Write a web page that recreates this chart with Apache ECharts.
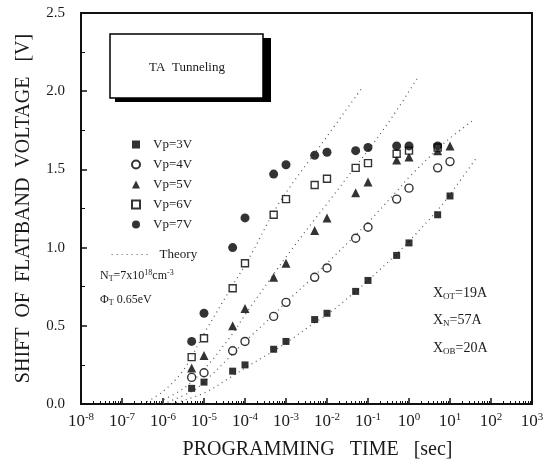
<!DOCTYPE html>
<html><head><meta charset="utf-8">
<script src="https://cdn.jsdelivr.net/npm/echarts@6/dist/echarts.min.js"></script>
<style>html,body{margin:0;padding:0;background:#fff}#c{width:555px;height:472px}</style>
</head><body><div id="c"></div>
<script>
const times = [5e-6, 1e-5, 5e-5, 1e-4, 5e-4, 1e-3, 5e-3, 1e-2, 5e-2, 1e-1, 5e-1, 1, 5, 10];
const vp3 = [0.10, 0.14, 0.21, 0.25, 0.35, 0.40, 0.54, 0.58, 0.72, 0.79, 0.95, 1.03, 1.21, 1.33];
const vp4 = [0.17, 0.20, 0.34, 0.40, 0.56, 0.65, 0.81, 0.87, 1.06, 1.13, 1.31, 1.38, 1.51, 1.55];
const vp5 = [0.23, 0.31, 0.50, 0.61, 0.81, 0.90, 1.11, 1.19, 1.35, 1.42, 1.56, 1.58, 1.62, 1.65];
const vp6 = [0.30, 0.42, 0.74, 0.90, 1.21, 1.31, 1.40, 1.44, 1.51, 1.54, 1.60, 1.62, 1.64, null];
const vp7 = [0.40, 0.58, 1.00, 1.19, 1.47, 1.53, 1.59, 1.61, 1.62, 1.64, 1.65, 1.65, 1.65, null];
// theory curves: [time, voltage]
const th6 = [[3.2e-7,0.0],[1e-6,0.08],[3.2e-6,0.22],[1e-5,0.45],[4.3e-5,0.73],[1.3e-4,0.94],[7e-4,1.29],[6.8e-3,1.65],[7.1e-2,2.02]];
const th5 = [[6.3e-7,0.0],[3.2e-6,0.1],[1e-5,0.22],[5e-5,0.45],[1e-4,0.57],[5e-4,0.83],[1e-3,0.94],[5e-3,1.18],[1e-2,1.28],[5e-2,1.52],[1e-1,1.62],[0.4,1.84],[1.66,2.09]];
const th4 = [[1e-6,0.0],[5e-6,0.08],[1e-5,0.14],[5e-5,0.32],[1e-4,0.40],[5e-4,0.57],[1e-3,0.65],[5e-3,0.82],[1e-2,0.90],[5e-2,1.08],[1e-1,1.16],[0.5,1.36],[1,1.45],[5,1.63],[10,1.70],[35,1.81]];
const th3 = [[1.6e-6,0.0],[1e-5,0.07],[5e-5,0.18],[1e-4,0.23],[5e-4,0.34],[1e-3,0.39],[5e-3,0.52],[1e-2,0.57],[5e-2,0.72],[1e-1,0.79],[0.5,0.96],[1,1.04],[5,1.24],[10,1.34],[46,1.58]];
const yTicks = ['0.0','0.5','1.0','1.5','2.0','2.5'];
const markerNames = ['Vp=3V','Vp=4V','Vp=5V','Vp=6V','Vp=7V'];
const theoryName = 'Theory';

const serif = '"Liberation Serif","DejaVu Serif",serif';
const ink = '#1a1a1a';
const chart = echarts.init(document.getElementById('c'), null, {renderer:'canvas'});
const pair = v => times.map((t,i)=> v[i]==null ? null : [t, v[i]]).filter(Boolean);
const theoryStyle = {color:'#555', width:1.2, type:[1,4]};
const sup = {b:{fontFamily:serif,fontSize:17,color:ink}, s:{fontFamily:serif,fontSize:11,color:ink,verticalAlign:'top',padding:[0,0,9,0]}};

const series = [];
[th6,th5,th4,th3].forEach(d=>series.push({name:theoryName, type:'line', data:d, smooth:0.35, symbol:'none', lineStyle:theoryStyle, itemStyle:{color:'#555'}, silent:true, z:1}));
const mk = [
  {data:vp3, symbol:'rect', size:7, fill:'#000'},
  {data:vp4, symbol:'circle', size:8, fill:'#fff'},
  {data:vp5, symbol:'triangle', size:9, fill:'#000'},
  {data:vp6, symbol:'rect', size:7, fill:'#fff'},
  {data:vp7, symbol:'circle', size:9, fill:'#000'}
];
mk.forEach((m,i)=>series.push({name:markerNames[i], type:'scatter', data:pair(m.data), symbol:m.symbol, symbolSize:m.size,
  itemStyle:{color:m.fill, borderColor:'#000', borderWidth:m.fill==='#fff'?1.4:0}, z:3}));

const sub = {a:{fontFamily:serif,fontSize:12,fill:ink}, s:{fontFamily:serif,fontSize:8,fill:ink,verticalAlign:'bottom',padding:[6,0,0,0]}, p:{fontFamily:serif,fontSize:8,fill:ink,verticalAlign:'top',padding:[0,0,6,0]}};
const sub2 = {a:{fontFamily:serif,fontSize:14,fill:ink}, s:{fontFamily:serif,fontSize:9,fill:ink,verticalAlign:'bottom',padding:[7,0,0,0]}};

chart.setOption({
  animation:false,
  backgroundColor:'#fff',
  grid:{left:81, right:23, top:13, bottom:68, show:true, borderColor:'#111', borderWidth:2, backgroundColor:'transparent'},
  legend:[
    {show:true, orient:'vertical', left:126, top:133, itemGap:7, itemWidth:8, itemHeight:8,
     data:markerNames, textStyle:{fontFamily:serif, fontSize:13, color:ink, padding:[0,0,0,8]}},
    {show:true, orient:'vertical', left:106, top:243, itemWidth:38, itemHeight:8,
     itemStyle:{opacity:0}, lineStyle:{color:'#555', width:1.2, type:[1,4]},
     data:[theoryName], textStyle:{fontFamily:serif, fontSize:13, color:ink, padding:[0,0,0,5]}}
  ],
  xAxis:{type:'log', logBase:10, min:1e-8, max:1e3, interval:1, splitNumber:11,
    name:'PROGRAMMING   TIME   [sec]', nameLocation:'middle', nameGap:36,
    nameTextStyle:{fontFamily:serif, fontSize:20, color:ink, padding:[0,0,0,22]},
    axisLine:{show:true, lineStyle:{color:'#111', width:2}},
    axisTick:{show:true, inside:true, length:6, lineStyle:{color:'#111', width:1.5}},
    minorTick:{show:true, splitNumber:9, length:3, lineStyle:{color:'#111'}},
    splitLine:{show:false},
    axisLabel:{margin:8, interval:0, rich:sup, formatter:v=>{const e=Math.round(Math.log10(v)); return '{b|10}{s|'+e+'}';}}
  },
  yAxis:{type:'value', min:0, max:2.5, interval:0.5, name:'SHIFT  OF  FLATBAND  VOLTAGE   [V]', nameLocation:'middle', nameGap:47, nameRotate:90,
    nameTextStyle:{fontFamily:serif, fontSize:20, color:ink},
    axisLine:{show:true, lineStyle:{color:'#111', width:2}},
    axisTick:{show:true, inside:true, length:6, lineStyle:{color:'#111', width:1.5}},
    minorTick:{show:true, splitNumber:2, length:4, lineStyle:{color:'#111'}},
    splitLine:{show:false},
    axisLabel:{margin:16, fontFamily:serif, fontSize:15, color:ink, formatter:v=>yTicks[Math.round(v/0.5)]}
  },
  graphic:[
    {type:'rect', shape:{x:115, y:38, width:156, height:64}, style:{fill:'#000'}, z:10},
    {type:'rect', shape:{x:110, y:34, width:153, height:64}, style:{fill:'#fff', stroke:'#000', lineWidth:1.5}, z:11},
    {type:'text', x:187, y:68, style:{text:'TA  Tunneling', fontFamily:serif, fontSize:13, fill:ink, align:'center', verticalAlign:'middle'}, z:12},
    {type:'text', x:100, y:276, style:{text:'{a|N}{s|T}{a|=7x10}{p|18}{a|cm}{p|-3}', rich:sub, verticalAlign:'middle'}, z:12},
    {type:'text', x:100, y:300, style:{text:'{a|Φ}{s|T}{a| 0.65eV}', rich:sub, verticalAlign:'middle'}, z:12},
    {type:'text', x:433, y:293, style:{text:'{a|X}{s|OT}{a|=19A}', rich:sub2, verticalAlign:'middle'}, z:12},
    {type:'text', x:433, y:320, style:{text:'{a|X}{s|N}{a|=57A}', rich:sub2, verticalAlign:'middle'}, z:12},
    {type:'text', x:433, y:348, style:{text:'{a|X}{s|OB}{a|=20A}', rich:sub2, verticalAlign:'middle'}, z:12}
  ],
  series:series
});
</script></body></html>
